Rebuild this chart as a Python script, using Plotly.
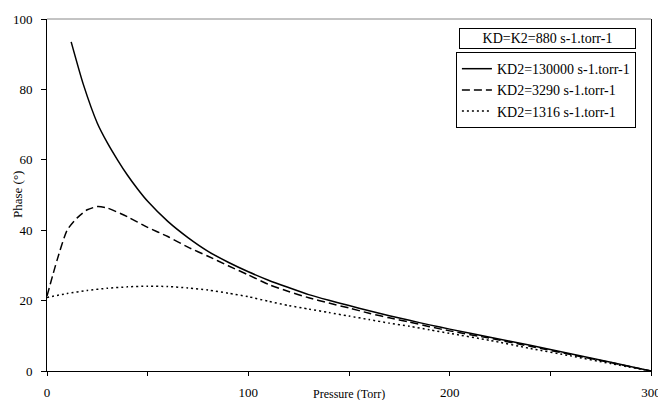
import plotly.graph_objects as go

# Data
solid_x = [12, 18, 25, 30, 35, 40, 45, 50, 60, 70, 80, 90, 100, 110, 120, 130, 140, 150, 160, 170, 180, 190, 200, 220, 240, 260, 280, 300]
solid_y = [93.5, 81.5, 70.4, 64.8, 60.0, 55.6, 51.7, 48.2, 42.5, 37.9, 34.0, 30.9, 28.2, 25.8, 23.7, 21.7, 20.1, 18.6, 17.1, 15.7, 14.4, 13.1, 11.9, 9.6, 7.3, 4.9, 2.5, 0]

dash_x = [0, 5, 10, 15, 20, 25, 30, 40, 50, 60, 70, 80, 90, 100, 110, 120, 130, 140, 150, 160, 170, 180, 190, 200, 220, 240, 260, 280, 300]
dash_y = [21.3, 31.5, 40, 43.5, 45.8, 46.7, 46.3, 43.8, 40.8, 38.2, 35.2, 32.6, 29.9, 27.3, 24.6, 22.6, 20.8, 19.3, 17.9, 16.4, 15.1, 13.9, 12.6, 11.4, 9.3, 7.0, 4.7, 2.4, 0]

dot_x = [0, 10, 20, 30, 40, 50, 60, 70, 80, 90, 100, 110, 120, 130, 140, 150, 160, 170, 180, 190, 200, 220, 240, 260, 280, 300]
dot_y = [20.9, 22.0, 22.9, 23.5, 23.9, 24.1, 24.0, 23.6, 23.0, 22.1, 21.1, 19.8, 18.6, 17.6, 16.6, 15.6, 14.6, 13.6, 12.7, 11.7, 10.7, 8.7, 6.4, 4.3, 2.1, 0]

names = ["KD2=130000 s-1.torr-1", "KD2=3290 s-1.torr-1", "KD2=1316 s-1.torr-1"]
legend_title = "KD=K2=880 s-1.torr-1"
x_title = "Pressure (Torr)"
y_title = "Phase (°)"
x_ticks = [0, 100, 200, 300]
y_ticks = [0, 20, 40, 60, 80, 100]

FONT = "Times New Roman, Liberation Serif, DejaVu Serif, serif"

fig = go.Figure()
fig.add_trace(go.Scatter(x=solid_x, y=solid_y, mode="lines", name=names[0],
                         line=dict(color="black", width=1.5, shape="spline", smoothing=0.6)))
fig.add_trace(go.Scatter(x=dash_x, y=dash_y, mode="lines", name=names[1],
                         line=dict(color="black", width=1.5, dash="8px,4px", shape="spline", smoothing=0.6)))
fig.add_trace(go.Scatter(x=dot_x, y=dot_y, mode="lines", name=names[2],
                         line=dict(color="black", width=1.5, dash="2px,3px", shape="spline", smoothing=0.6)))

fig.update_layout(
    width=658, height=400,
    margin=dict(l=47, r=7, t=19, b=29),
    paper_bgcolor="white", plot_bgcolor="white",
    font=dict(family=FONT, size=13, color="black"),
    showlegend=True,
    legend=dict(
        x=0.677, y=0.906, xanchor="left", yanchor="top",
        bordercolor="black", borderwidth=1, bgcolor="white",
        font=dict(family=FONT, size=14, color="black"),
        tracegroupgap=0, itemwidth=30,
    ),
    xaxis=dict(
        range=[0, 300], tickvals=x_ticks, ticktext=[str(v) for v in x_ticks],
        showgrid=False, zeroline=False, showline=True, linecolor="black", linewidth=1,
        ticks="outside", ticklen=4, tickcolor="black",
        minor=dict(tickvals=[50, 150, 250], ticks="outside", ticklen=4, tickcolor="black"),
        tickfont=dict(family=FONT, size=13), ticklabelstandoff=5,
        ticklabeloverflow="allow", automargin=False,
    ),
    yaxis=dict(
        range=[0, 100], tickvals=y_ticks,
        showgrid=False, zeroline=False, showline=True, linecolor="black", linewidth=1,
        mirror=True,
        ticks="outside", ticklen=5, tickcolor="black",
        tickfont=dict(family=FONT, size=13), ticklabelstandoff=6,
        automargin=False,
    ),
    shapes=[dict(type="line", xref="paper", yref="paper", x0=0, x1=1, y0=1, y1=1,
                 line=dict(color="#888888", width=1))],
    annotations=[
        dict(text=legend_title, xref="paper", yref="paper",
             x=0.828, y=0.945, xanchor="center", yanchor="middle",
             showarrow=False, bordercolor="black", borderwidth=1, bgcolor="white",
             width=173, height=17, font=dict(family=FONT, size=14, color="black")),
        dict(text=x_title, xref="paper", yref="paper", x=0.5, y=0,
             xanchor="center", yanchor="top", yshift=-14, showarrow=False,
             font=dict(family=FONT, size=12, color="black")),
        dict(text=y_title, xref="paper", yref="paper", x=0, y=0.5,
             xanchor="center", yanchor="middle", xshift=-30, showarrow=False,
             textangle=-90, font=dict(family=FONT, size=13, color="black")),
    ],
)

fig.write_html("out.html")
